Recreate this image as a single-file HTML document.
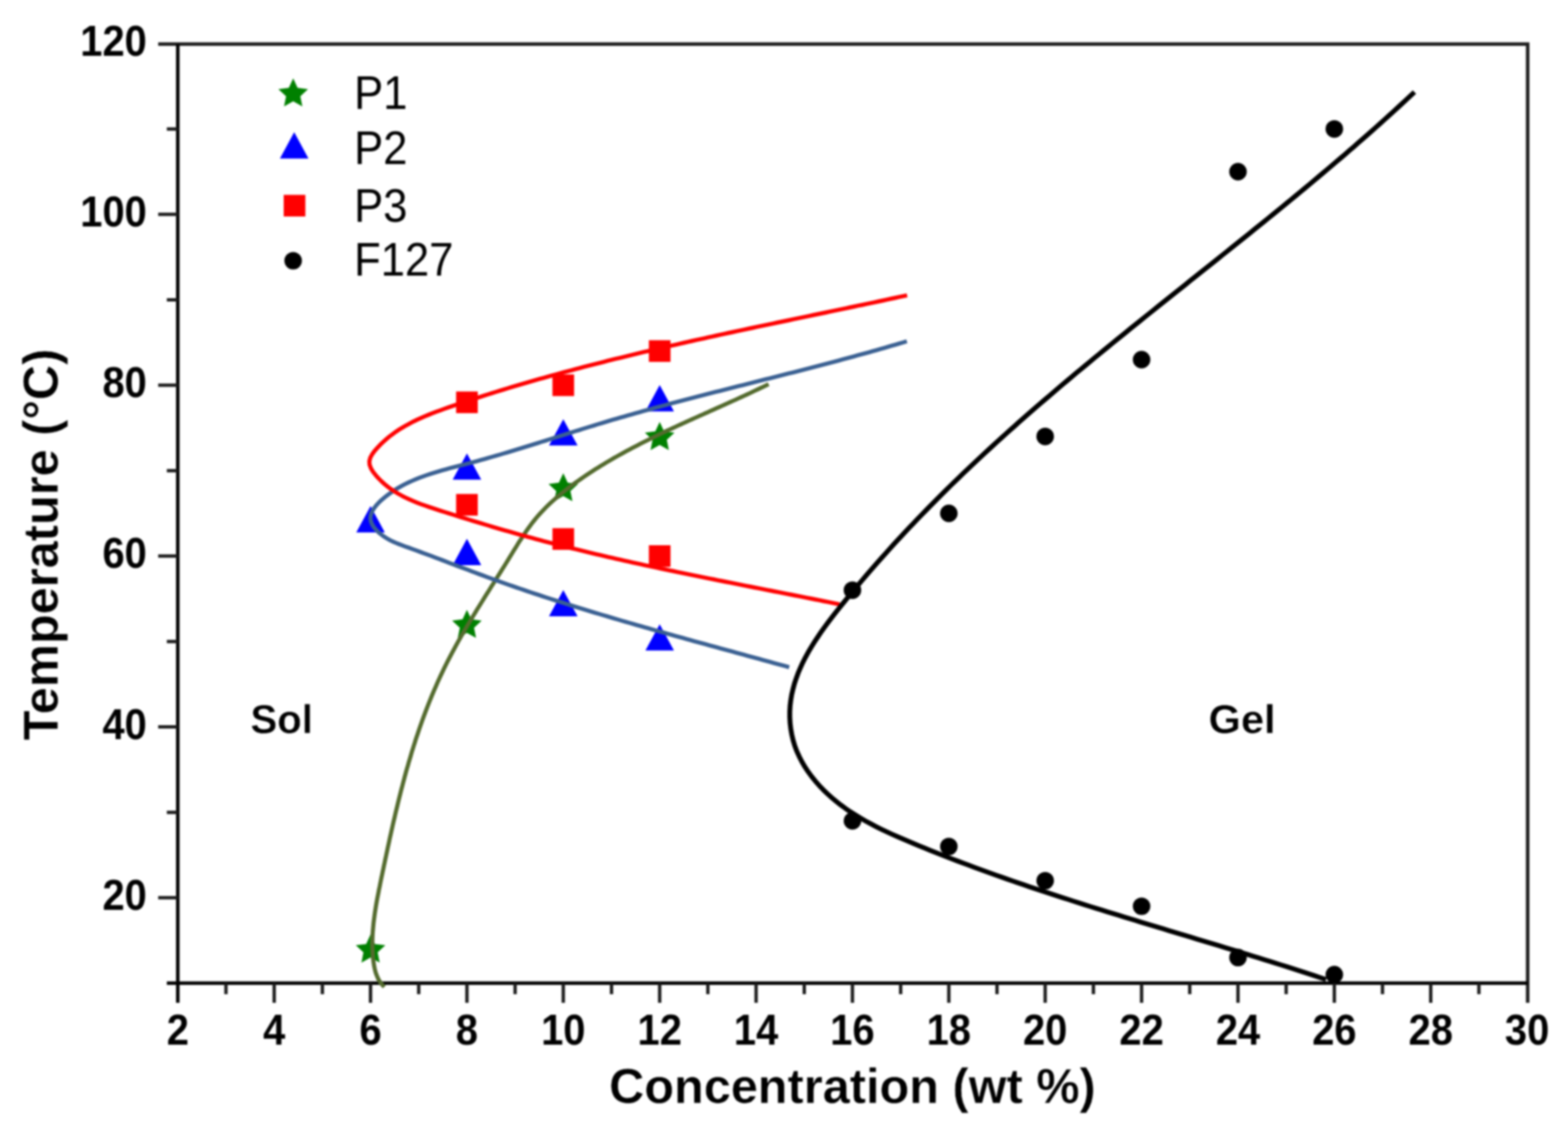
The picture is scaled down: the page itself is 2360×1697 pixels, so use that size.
<!DOCTYPE html>
<html lang="en"><head><meta charset="utf-8"><title>Sol-gel phase diagram</title>
<style>
html,body{margin:0;padding:0;background:#fff;}
body{width:2360px;height:1697px;overflow:hidden;}
svg{display:block;}
text{font-family:"Liberation Sans",sans-serif;fill:#000;}
.tk{font-weight:bold;font-size:64.6px;}
.ax{font-weight:bold;font-size:74px;stroke:#fff;stroke-width:0.5;}
.lg{font-size:70.5px;}
.an{font-weight:bold;font-size:62px;stroke:#fff;stroke-width:0.5;}
</style></head><body>
<svg width="2360" height="1697" viewBox="0 0 2360 1697" role="img" aria-label="Sol-gel phase diagram: temperature versus concentration">
<defs><filter id="soft" x="-2%" y="-2%" width="104%" height="104%" color-interpolation-filters="sRGB"><feGaussianBlur stdDeviation="1.4"/></filter></defs>
<g filter="url(#soft)">
<rect x="0" y="0" width="2360" height="1697" fill="#fff"/>
<g stroke="#000" stroke-width="5.3" fill="none" stroke-linecap="butt">
<path d="M238.1 66.4 H2299.3 V1509.9" stroke="#1c1c1c"/>
<path d="M267.6 66.4 V1509.9"/>
<path d="M251.1 1480.4 H2299.3"/>
<path d="M340.1 1480.4 v16.5M412.7 1480.4 v29.5M485.2 1480.4 v16.5M557.7 1480.4 v29.5M630.2 1480.4 v16.5M702.8 1480.4 v29.5M775.3 1480.4 v16.5M847.8 1480.4 v29.5M920.4 1480.4 v16.5M992.9 1480.4 v29.5M1065.4 1480.4 v16.5M1138.0 1480.4 v29.5M1210.5 1480.4 v16.5M1283.0 1480.4 v29.5M1355.6 1480.4 v16.5M1428.1 1480.4 v29.5M1500.6 1480.4 v16.5M1573.1 1480.4 v29.5M1645.7 1480.4 v16.5M1718.2 1480.4 v29.5M1790.7 1480.4 v16.5M1863.3 1480.4 v29.5M1935.8 1480.4 v16.5M2008.3 1480.4 v29.5M2080.8 1480.4 v16.5M2153.4 1480.4 v29.5M2225.9 1480.4 v16.5" stroke-width="5.0" stroke="#1a1a1a"/>
<path d="M267.6 1351.8 h-29.5M267.6 1223.2 h-16.5M267.6 1094.5 h-29.5M267.6 965.9 h-16.5M267.6 837.3 h-29.5M267.6 708.7 h-16.5M267.6 580.1 h-29.5M267.6 451.4 h-16.5M267.6 322.8 h-29.5M267.6 194.2 h-16.5" stroke-width="5.0" stroke="#1a1a1a"/>
</g>
<g fill="#0000ff"><polygon points="557.7,762.1 579.2,801.7 536.2,801.7"/><polygon points="702.8,682.7 724.3,722.3 681.3,722.3"/><polygon points="702.8,811.3 724.3,850.9 681.3,850.9"/><polygon points="847.8,631.2 869.3,670.8 826.3,670.8"/><polygon points="847.8,888.5 869.3,928.1 826.3,928.1"/><polygon points="992.9,579.8 1014.4,619.4 971.4,619.4"/><polygon points="992.9,939.9 1014.4,979.5 971.4,979.5"/></g>
<g fill="#008000"><polygon points="557.7,1407.1 564.3,1421.4 580.0,1423.2 568.4,1433.9 571.5,1449.4 557.7,1441.7 544.0,1449.4 547.0,1433.9 535.5,1423.2 551.1,1421.4"/><polygon points="702.8,918.3 709.4,932.6 725.0,934.5 713.5,945.2 716.5,960.6 702.8,952.9 689.0,960.6 692.1,945.2 680.5,934.5 696.2,932.6"/><polygon points="847.8,712.5 854.4,726.8 870.1,728.7 858.5,739.4 861.6,754.8 847.8,747.1 834.1,754.8 837.2,739.4 825.6,728.7 841.2,726.8"/><polygon points="992.9,635.3 999.5,649.6 1015.2,651.5 1003.6,662.2 1006.7,677.7 992.9,670.0 979.1,677.7 982.2,662.2 970.6,651.5 986.3,649.6"/></g>
<g fill="none" stroke-linecap="butt" stroke-linejoin="round">
<path d="M1156.8 578.5L1152.7 580.5L1148.6 582.5L1144.5 584.4L1140.4 586.4L1136.3 588.3L1132.2 590.3L1128.1 592.2L1124.0 594.1L1119.9 596.0L1115.8 597.9L1111.6 599.8L1107.5 601.7L1103.4 603.5L1099.2 605.4L1095.1 607.3L1091.0 609.1L1086.8 611.0L1082.7 612.9L1078.6 614.7L1074.4 616.6L1070.3 618.4L1066.2 620.3L1062.0 622.1L1057.9 624.0L1053.7 625.8L1049.6 627.7L1045.5 629.5L1041.4 631.4L1037.2 633.3L1033.1 635.1L1029.0 637.0L1024.9 638.9L1020.7 640.8L1016.6 642.7L1012.5 644.6L1008.4 646.5L1004.3 648.4L1000.2 650.4L996.2 652.3L992.1 654.3L988.0 656.2L983.9 658.2L979.9 660.2L975.8 662.2L971.8 664.2L967.7 666.3L963.7 668.3L959.7 670.4L955.7 672.5L951.7 674.6L947.7 676.7L943.7 678.8L939.7 681.0L935.7 683.2L931.8 685.4L927.8 687.6L923.9 689.8L920.0 692.1L916.1 694.4L912.2 696.7L908.3 699.1L904.4 701.4L900.6 703.8L896.7 706.2L892.9 708.7L889.1 711.2L885.3 713.7L881.5 716.2L877.7 718.8L874.0 721.4L870.2 724.0L866.5 726.6L862.8 729.3L859.1 732.0L855.5 734.8L851.9 737.6L848.3 740.4L844.7 743.3L841.2 746.2L837.7 749.2L834.3 752.2L830.9 755.2L827.6 758.3L824.3 761.4L821.1 764.6L818.0 767.8L814.9 771.1L811.9 774.4L808.9 777.8L806.0 781.2L803.2 784.7L800.5 788.2L797.8 791.8L795.2 795.4L792.6 799.0L790.1 802.7L787.6 806.4L785.2 810.2L782.7 813.9L780.3 817.7L778.0 821.5L775.6 825.4L773.2 829.2L770.9 833.0L768.5 836.9L766.2 840.7L763.8 844.6L761.4 848.5L759.0 852.3L756.6 856.2L754.2 860.0L751.8 863.9L749.4 867.7L746.9 871.6L744.5 875.5L742.1 879.3L739.6 883.2L737.2 887.1L734.8 891.0L732.3 894.8L729.9 898.7L727.5 902.6L725.1 906.5L722.7 910.4L720.2 914.3L717.8 918.2L715.5 922.1L713.1 926.0L710.7 929.9L708.3 933.9L706.0 937.8L703.6 941.7L701.3 945.7L699.0 949.6L696.7 953.6L694.4 957.5L692.2 961.5L689.9 965.5L687.7 969.5L685.5 973.5L683.4 977.5L681.2 981.5L679.1 985.5L677.0 989.5L674.9 993.5L672.8 997.6L670.8 1001.6L668.8 1005.7L666.8 1009.8L664.9 1013.8L663.0 1017.9L661.1 1022.0L659.2 1026.1L657.4 1030.3L655.6 1034.4L653.8 1038.5L652.0 1042.7L650.3 1046.8L648.6 1051.0L646.9 1055.1L645.2 1059.3L643.6 1063.5L642.0 1067.7L640.4 1071.9L638.8 1076.1L637.2 1080.3L635.7 1084.5L634.2 1088.7L632.7 1093.0L631.2 1097.2L629.8 1101.5L628.4 1105.7L626.9 1110.0L625.5 1114.3L624.2 1118.6L622.8 1122.9L621.5 1127.1L620.1 1131.4L618.8 1135.8L617.6 1140.1L616.3 1144.4L615.0 1148.7L613.8 1153.1L612.5 1157.4L611.3 1161.7L610.1 1166.1L608.9 1170.4L607.8 1174.8L606.6 1179.2L605.5 1183.6L604.3 1187.9L603.2 1192.3L602.1 1196.7L601.0 1201.1L599.9 1205.5L598.8 1209.9L597.8 1214.3L596.7 1218.8L595.6 1223.2L594.6 1227.6L593.6 1232.0L592.5 1236.5L591.5 1240.9L590.5 1245.4L589.5 1249.8L588.5 1254.3L587.5 1258.7L586.5 1263.2L585.6 1267.6L584.6 1272.1L583.6 1276.6L582.7 1281.1L581.7 1285.6L580.8 1290.0L579.8 1294.5L578.9 1299.0L577.9 1303.5L577.0 1308.0L576.0 1312.5L575.1 1317.0L574.1 1321.5L573.2 1326.0L572.3 1330.5L571.4 1335.1L570.4 1339.6L569.6 1344.1L568.7 1348.6L567.8 1353.1L567.0 1357.6L566.2 1362.1L565.5 1366.6L564.8 1371.1L564.1 1375.6L563.5 1380.1L562.9 1384.6L562.3 1389.1L561.9 1393.5L561.5 1398.0L561.1 1402.4L560.8 1406.9L560.6 1411.3L560.5 1415.7L560.4 1420.1L560.5 1424.5L560.6 1428.9L560.8 1433.3L561.1 1437.6L561.4 1442.0L561.9 1446.3L562.5 1450.6L563.2 1454.9L564.1 1459.1L565.1 1463.3L566.5 1467.4L568.1 1471.4L570.0 1475.3L572.4 1479.1L575.1 1482.7L578.4 1486.1" stroke="#536a2d" stroke-width="6.2"/>
<path d="M1364.9 513.9L1359.2 515.6L1353.6 517.3L1347.9 519.0L1342.2 520.6L1336.5 522.3L1330.8 523.9L1325.1 525.5L1319.4 527.2L1313.7 528.8L1308.0 530.4L1302.3 532.0L1296.5 533.6L1290.8 535.1L1285.1 536.7L1279.4 538.3L1273.6 539.8L1267.9 541.3L1262.1 542.9L1256.4 544.4L1250.6 545.9L1244.9 547.4L1239.1 549.0L1233.4 550.5L1227.6 552.0L1221.8 553.5L1216.1 554.9L1210.3 556.4L1204.5 557.9L1198.8 559.4L1193.0 560.9L1187.2 562.3L1181.4 563.8L1175.7 565.3L1169.9 566.7L1164.1 568.2L1158.3 569.7L1152.5 571.1L1146.8 572.6L1141.0 574.0L1135.2 575.5L1129.4 577.0L1123.6 578.4L1117.8 579.9L1112.1 581.3L1106.3 582.8L1100.5 584.3L1094.7 585.7L1088.9 587.2L1083.2 588.7L1077.4 590.1L1071.6 591.6L1065.8 593.1L1060.1 594.6L1054.3 596.1L1048.5 597.5L1042.8 599.0L1037.0 600.5L1031.2 602.1L1025.5 603.6L1019.7 605.1L1013.9 606.6L1008.2 608.1L1002.4 609.7L996.7 611.2L990.9 612.8L985.2 614.3L979.5 615.9L973.7 617.5L968.0 619.1L962.3 620.7L956.6 622.3L950.8 623.9L945.1 625.5L939.4 627.2L933.7 628.8L928.0 630.5L922.3 632.1L916.6 633.8L911.0 635.5L905.3 637.2L899.6 638.9L893.9 640.7L888.3 642.4L882.6 644.1L876.9 645.9L871.3 647.7L865.6 649.4L860.0 651.2L854.3 653.0L848.7 654.7L843.0 656.5L837.4 658.3L831.7 660.1L826.1 661.9L820.4 663.7L814.8 665.4L809.1 667.2L803.4 669.0L797.8 670.7L792.1 672.5L786.4 674.3L780.7 676.0L775.0 677.7L769.3 679.5L763.6 681.2L757.9 682.9L752.2 684.6L746.4 686.2L740.7 687.9L735.0 689.5L729.2 691.2L723.4 692.8L717.6 694.4L711.9 695.9L706.1 697.5L700.2 699.0L694.4 700.5L688.6 702.0L682.8 703.6L676.9 705.1L671.1 706.7L665.3 708.3L659.6 710.0L653.8 711.7L648.1 713.5L642.5 715.4L636.9 717.4L631.3 719.4L625.8 721.6L620.3 724.0L615.0 726.4L609.6 729.0L604.4 731.8L599.2 734.7L594.2 737.9L589.2 741.2L584.3 744.7L579.6 748.4L574.9 752.3L570.4 756.5L566.4 760.8L562.9 765.3L560.1 770.0L558.3 774.7L557.5 779.5L558.0 784.3L559.8 789.2L562.8 794.0L566.7 798.6L571.3 802.9L576.4 806.9L581.8 810.4L587.2 813.5L592.8 816.1L598.4 818.5L604.0 820.7L609.7 822.8L615.4 824.8L621.0 826.8L626.7 828.9L632.3 831.0L637.9 833.1L643.5 835.2L649.1 837.2L654.7 839.3L660.2 841.4L665.8 843.5L671.3 845.7L676.9 847.8L682.4 849.9L688.0 852.0L693.5 854.1L699.1 856.2L704.6 858.2L710.1 860.3L715.7 862.4L721.2 864.5L726.8 866.5L732.3 868.6L737.9 870.6L743.4 872.6L749.0 874.6L754.6 876.6L760.2 878.6L765.8 880.6L771.4 882.5L777.0 884.5L782.6 886.4L788.2 888.3L793.8 890.2L799.4 892.1L805.0 894.0L810.7 895.8L816.3 897.7L822.0 899.6L827.6 901.4L833.3 903.2L838.9 905.0L844.6 906.8L850.3 908.6L855.9 910.4L861.6 912.2L867.3 914.0L873.0 915.7L878.7 917.5L884.4 919.2L890.0 921.0L895.7 922.7L901.4 924.4L907.2 926.1L912.9 927.8L918.6 929.5L924.3 931.2L930.0 932.9L935.7 934.6L941.4 936.2L947.2 937.9L952.9 939.5L958.6 941.2L964.3 942.8L970.1 944.5L975.8 946.1L981.5 947.7L987.3 949.4L993.0 951.0L998.8 952.6L1004.5 954.2L1010.2 955.8L1016.0 957.4L1021.7 959.0L1027.5 960.6L1033.2 962.2L1038.9 963.8L1044.7 965.4L1050.4 966.9L1056.2 968.5L1061.9 970.1L1067.6 971.7L1073.4 973.3L1079.1 974.8L1084.9 976.4L1090.6 978.0L1096.3 979.5L1102.1 981.1L1107.8 982.7L1113.5 984.3L1119.3 985.8L1125.0 987.4L1130.7 989.0L1136.4 990.5L1142.2 992.1L1147.9 993.7L1153.6 995.2L1159.3 996.8L1165.0 998.4L1170.7 1000.0L1176.4 1001.5L1182.1 1003.1L1187.8 1004.7" stroke="#3a6092" stroke-width="6.2"/>
<path d="M1365.3 444.7L1359.1 446.0L1353.0 447.3L1346.9 448.6L1340.7 449.9L1334.6 451.3L1328.4 452.6L1322.3 453.9L1316.2 455.2L1310.0 456.5L1303.9 457.8L1297.8 459.1L1291.6 460.3L1285.5 461.6L1279.4 462.9L1273.3 464.2L1267.1 465.5L1261.0 466.8L1254.9 468.0L1248.8 469.3L1242.7 470.6L1236.5 471.9L1230.4 473.1L1224.3 474.4L1218.2 475.7L1212.1 477.0L1206.0 478.2L1199.9 479.5L1193.8 480.8L1187.7 482.1L1181.6 483.4L1175.5 484.6L1169.4 485.9L1163.3 487.2L1157.2 488.5L1151.1 489.8L1145.0 491.0L1138.9 492.3L1132.8 493.6L1126.7 494.9L1120.6 496.2L1114.6 497.5L1108.5 498.8L1102.4 500.1L1096.3 501.4L1090.2 502.7L1084.2 504.1L1078.1 505.4L1072.0 506.7L1065.9 508.0L1059.9 509.4L1053.8 510.7L1047.7 512.1L1041.7 513.4L1035.6 514.8L1029.5 516.1L1023.5 517.5L1017.4 518.9L1011.3 520.2L1005.3 521.6L999.2 523.0L993.2 524.4L987.1 525.8L981.1 527.3L975.0 528.7L969.0 530.1L962.9 531.5L956.9 533.0L950.8 534.4L944.8 535.9L938.8 537.4L932.7 538.9L926.7 540.3L920.7 541.8L914.6 543.3L908.6 544.9L902.6 546.4L896.5 547.9L890.5 549.5L884.5 551.0L878.5 552.6L872.4 554.2L866.4 555.8L860.4 557.4L854.4 559.0L848.4 560.6L842.4 562.2L836.3 563.9L830.3 565.5L824.3 567.2L818.3 568.9L812.3 570.6L806.3 572.3L800.3 574.0L794.3 575.8L788.3 577.5L782.3 579.3L776.3 581.0L770.3 582.8L764.3 584.6L758.3 586.5L752.4 588.3L746.4 590.1L740.4 592.0L734.4 593.9L728.4 595.8L722.4 597.7L716.5 599.6L710.5 601.5L704.5 603.5L698.5 605.5L692.6 607.5L686.6 609.5L680.6 611.5L674.7 613.5L668.7 615.6L662.8 617.8L656.9 619.9L651.0 622.2L645.2 624.5L639.4 626.9L633.7 629.4L628.1 631.9L622.5 634.6L617.0 637.5L611.6 640.4L606.3 643.5L601.0 646.7L595.9 650.1L590.9 653.7L586.0 657.4L581.3 661.4L576.7 665.5L572.2 669.8L567.9 674.4L563.7 679.1L560.1 684.1L557.3 689.3L555.9 694.6L556.3 699.9L558.4 705.3L561.6 710.6L565.6 715.7L569.8 720.4L574.3 724.9L579.0 729.1L583.8 733.0L588.8 736.7L594.0 740.1L599.3 743.4L604.8 746.4L610.3 749.2L616.0 751.9L621.7 754.4L627.6 756.8L633.5 759.1L639.4 761.2L645.4 763.3L651.5 765.3L657.5 767.3L663.5 769.2L669.6 771.1L675.6 773.0L681.6 774.9L687.6 776.8L693.6 778.7L699.6 780.5L705.5 782.4L711.5 784.2L717.5 786.0L723.4 787.8L729.4 789.6L735.3 791.4L741.2 793.2L747.2 794.9L753.1 796.7L759.1 798.4L765.0 800.1L771.0 801.8L776.9 803.5L782.9 805.2L788.8 806.8L794.8 808.5L800.8 810.1L806.7 811.7L812.7 813.3L818.7 814.9L824.7 816.5L830.7 818.0L836.7 819.6L842.8 821.1L848.8 822.6L854.8 824.2L860.9 825.7L866.9 827.1L872.9 828.6L879.0 830.1L885.0 831.5L891.1 833.0L897.2 834.4L903.2 835.8L909.3 837.2L915.4 838.7L921.5 840.0L927.5 841.4L933.6 842.8L939.7 844.2L945.8 845.5L951.9 846.9L958.0 848.2L964.1 849.5L970.2 850.9L976.3 852.2L982.4 853.5L988.6 854.8L994.7 856.1L1000.8 857.4L1006.9 858.7L1013.0 859.9L1019.1 861.2L1025.3 862.5L1031.4 863.7L1037.5 865.0L1043.6 866.2L1049.8 867.5L1055.9 868.7L1062.0 870.0L1068.2 871.2L1074.3 872.4L1080.4 873.7L1086.5 874.9L1092.7 876.1L1098.8 877.3L1104.9 878.5L1111.1 879.7L1117.2 881.0L1123.3 882.2L1129.4 883.4L1135.5 884.6L1141.7 885.8L1147.8 887.0L1153.9 888.2L1160.0 889.4L1166.1 890.6L1172.2 891.8L1178.4 893.0L1184.5 894.2L1190.6 895.4L1196.7 896.6L1202.8 897.8L1208.9 899.0L1215.0 900.2L1221.0 901.4L1227.1 902.6L1233.2 903.8L1239.3 905.1L1245.4 906.3L1251.4 907.5L1257.5 908.7L1263.6 910.0" stroke="#ff0000" stroke-width="6.2"/>
<path d="M2128.9 138.6L2122.5 144.6L2116.1 150.6L2109.7 156.5L2103.2 162.5L2096.8 168.4L2090.3 174.3L2083.8 180.1L2077.3 186.0L2070.7 191.9L2064.1 197.7L2057.6 203.5L2051.0 209.3L2044.3 215.1L2037.7 220.9L2031.1 226.6L2024.4 232.4L2017.7 238.1L2011.0 243.8L2004.3 249.6L1997.5 255.3L1990.8 260.9L1984.0 266.6L1977.3 272.3L1970.5 278.0L1963.7 283.6L1956.9 289.2L1950.1 294.9L1943.3 300.5L1936.4 306.1L1929.6 311.7L1922.7 317.3L1915.9 322.9L1909.0 328.5L1902.1 334.1L1895.2 339.6L1888.3 345.2L1881.4 350.8L1874.5 356.3L1867.6 361.9L1860.7 367.4L1853.8 372.9L1846.9 378.5L1839.9 384.0L1833.0 389.6L1826.1 395.1L1819.2 400.6L1812.2 406.1L1805.3 411.7L1798.4 417.2L1791.4 422.7L1784.5 428.3L1777.6 433.8L1770.6 439.3L1763.7 444.8L1756.8 450.4L1749.9 455.9L1743.0 461.4L1736.1 467.0L1729.2 472.5L1722.3 478.0L1715.4 483.6L1708.5 489.1L1701.6 494.7L1694.7 500.3L1687.9 505.8L1681.0 511.4L1674.1 517.0L1667.3 522.6L1660.5 528.1L1653.7 533.7L1646.9 539.3L1640.1 545.0L1633.3 550.6L1626.5 556.2L1619.7 561.8L1613.0 567.5L1606.3 573.1L1599.5 578.8L1592.8 584.5L1586.1 590.2L1579.5 595.9L1572.8 601.6L1566.2 607.3L1559.5 613.1L1552.9 618.8L1546.3 624.6L1539.8 630.3L1533.2 636.1L1526.7 642.0L1520.1 647.8L1513.6 653.6L1507.1 659.5L1500.6 665.4L1494.2 671.3L1487.7 677.2L1481.3 683.2L1474.9 689.1L1468.5 695.1L1462.1 701.1L1455.8 707.1L1449.4 713.2L1443.1 719.3L1436.8 725.4L1430.5 731.5L1424.3 737.7L1418.0 743.9L1411.8 750.1L1405.6 756.3L1399.4 762.6L1393.3 768.9L1387.1 775.2L1381.0 781.5L1374.9 787.9L1368.8 794.3L1362.7 800.8L1356.7 807.3L1350.6 813.8L1344.6 820.3L1338.7 826.9L1332.7 833.6L1326.7 840.2L1320.8 846.9L1314.9 853.6L1309.0 860.4L1303.2 867.2L1297.4 874.0L1291.5 880.9L1285.7 887.9L1280.0 894.8L1274.2 901.8L1268.5 908.9L1262.8 916.0L1257.2 923.1L1251.6 930.3L1246.1 937.5L1240.7 944.8L1235.5 952.2L1230.5 959.6L1225.6 967.1L1220.9 974.6L1216.4 982.2L1212.2 989.9L1208.3 997.6L1204.7 1005.5L1201.3 1013.4L1198.4 1021.4L1195.7 1029.5L1193.5 1037.7L1191.6 1045.9L1190.2 1054.3L1189.2 1062.7L1188.7 1071.3L1188.7 1080.0L1189.2 1088.7L1190.2 1097.4L1191.7 1106.0L1193.7 1114.6L1196.2 1123.0L1199.3 1131.3L1203.0 1139.3L1207.0 1147.2L1211.5 1154.8L1216.4 1162.2L1221.7 1169.4L1227.3 1176.3L1233.1 1182.9L1239.2 1189.3L1245.5 1195.4L1252.0 1201.3L1258.8 1206.9L1265.7 1212.3L1272.7 1217.4L1280.0 1222.4L1287.4 1227.1L1294.9 1231.7L1302.5 1236.1L1310.3 1240.3L1318.1 1244.4L1326.1 1248.4L1334.1 1252.2L1342.2 1256.0L1350.4 1259.6L1358.6 1263.2L1366.8 1266.7L1375.0 1270.2L1383.3 1273.6L1391.5 1276.9L1399.8 1280.3L1408.1 1283.6L1416.3 1286.9L1424.6 1290.1L1432.9 1293.3L1441.2 1296.5L1449.5 1299.6L1457.8 1302.7L1466.1 1305.8L1474.4 1308.9L1482.7 1311.9L1491.0 1314.9L1499.3 1317.9L1507.7 1320.8L1516.0 1323.7L1524.3 1326.6L1532.7 1329.5L1541.0 1332.3L1549.3 1335.2L1557.7 1338.0L1566.0 1340.8L1574.4 1343.5L1582.8 1346.3L1591.1 1349.0L1599.5 1351.7L1607.9 1354.4L1616.2 1357.1L1624.6 1359.8L1633.0 1362.4L1641.4 1365.1L1649.8 1367.7L1658.2 1370.3L1666.6 1372.9L1675.0 1375.5L1683.4 1378.1L1691.8 1380.7L1700.2 1383.3L1708.6 1385.8L1717.0 1388.4L1725.4 1391.0L1733.8 1393.5L1742.2 1396.1L1750.7 1398.6L1759.1 1401.2L1767.5 1403.7L1775.9 1406.3L1784.4 1408.8L1792.8 1411.3L1801.2 1413.9L1809.7 1416.4L1818.1 1419.0L1826.6 1421.6L1835.0 1424.1L1843.5 1426.7L1851.9 1429.3L1860.4 1431.8L1868.8 1434.4L1877.3 1437.0L1885.7 1439.7L1894.2 1442.3L1902.6 1444.9L1911.1 1447.6L1919.6 1450.2L1928.0 1452.9L1936.5 1455.6L1945.0 1458.3L1953.4 1461.0L1961.9 1463.8L1970.4 1466.5L1978.8 1469.3L1987.3 1472.1L1995.8 1474.9" stroke="#000" stroke-width="7.3"/>
</g>
<g fill="#ff0000"><rect x="686.5" y="589.5" width="32.6" height="32.6"/><rect x="686.5" y="743.8" width="32.6" height="32.6"/><rect x="831.5" y="563.8" width="32.6" height="32.6"/><rect x="831.5" y="795.3" width="32.6" height="32.6"/><rect x="976.6" y="512.3" width="32.6" height="32.6"/><rect x="976.6" y="821.0" width="32.6" height="32.6"/></g>
<g fill="#000"><circle cx="1283.0" cy="888.7" r="13.2"/><circle cx="1283.0" cy="1236.0" r="13.2"/><circle cx="1428.1" cy="773.0" r="13.2"/><circle cx="1428.1" cy="1274.6" r="13.2"/><circle cx="1573.1" cy="657.2" r="13.2"/><circle cx="1573.1" cy="1326.1" r="13.2"/><circle cx="1718.2" cy="541.5" r="13.2"/><circle cx="1718.2" cy="1364.6" r="13.2"/><circle cx="1863.3" cy="258.5" r="13.2"/><circle cx="1863.3" cy="1441.8" r="13.2"/><circle cx="2008.3" cy="194.2" r="13.2"/><circle cx="2008.3" cy="1467.5" r="13.2"/></g>
<g class="tk">
<text class="tk" text-anchor="middle" transform="translate(267.6 1573.0) scale(0.9300 1)">2</text>
<text class="tk" text-anchor="middle" transform="translate(412.7 1573.0) scale(0.9300 1)">4</text>
<text class="tk" text-anchor="middle" transform="translate(557.7 1573.0) scale(0.9300 1)">6</text>
<text class="tk" text-anchor="middle" transform="translate(702.8 1573.0) scale(0.9300 1)">8</text>
<text class="tk" text-anchor="middle" transform="translate(847.8 1573.0) scale(0.9300 1)">10</text>
<text class="tk" text-anchor="middle" transform="translate(992.9 1573.0) scale(0.9300 1)">12</text>
<text class="tk" text-anchor="middle" transform="translate(1138.0 1573.0) scale(0.9300 1)">14</text>
<text class="tk" text-anchor="middle" transform="translate(1283.0 1573.0) scale(0.9300 1)">16</text>
<text class="tk" text-anchor="middle" transform="translate(1428.1 1573.0) scale(0.9300 1)">18</text>
<text class="tk" text-anchor="middle" transform="translate(1573.1 1573.0) scale(0.9300 1)">20</text>
<text class="tk" text-anchor="middle" transform="translate(1718.2 1573.0) scale(0.9300 1)">22</text>
<text class="tk" text-anchor="middle" transform="translate(1863.3 1573.0) scale(0.9300 1)">24</text>
<text class="tk" text-anchor="middle" transform="translate(2008.3 1573.0) scale(0.9300 1)">26</text>
<text class="tk" text-anchor="middle" transform="translate(2153.4 1573.0) scale(0.9300 1)">28</text>
<text class="tk" text-anchor="middle" transform="translate(2298.4 1573.0) scale(0.9300 1)">30</text>
<text class="tk" text-anchor="end" transform="translate(221.0 1369.8) scale(0.9300 1)">20</text>
<text class="tk" text-anchor="end" transform="translate(221.0 1112.5) scale(0.9300 1)">40</text>
<text class="tk" text-anchor="end" transform="translate(221.0 855.3) scale(0.9300 1)">60</text>
<text class="tk" text-anchor="end" transform="translate(221.0 598.1) scale(0.9300 1)">80</text>
<text class="tk" text-anchor="end" transform="translate(221.0 340.8) scale(0.9300 1)">100</text>
<text class="tk" text-anchor="end" transform="translate(221.0 83.6) scale(0.9300 1)">120</text>
</g>
<text class="ax" text-anchor="middle" transform="translate(1283.0 1661.0) scale(0.9900 1)">Concentration (wt %)</text>
<text class="ax" text-anchor="middle" transform="translate(87.0 820.0) rotate(-90) scale(0.9900 1)">Temperature (°C)</text>
<text class="an" transform="translate(377.0 1103.5) scale(0.9750 1)">Sol</text>
<text class="an" transform="translate(1819.0 1103.5) scale(1.0100 1)">Gel</text>
<g fill="#008000"><polygon points="441.3,118.0 447.9,132.3 463.6,134.2 452.0,144.9 455.1,160.3 441.3,152.6 427.5,160.3 430.6,144.9 419.0,134.2 434.7,132.3"/></g>
<g fill="#0000ff"><polygon points="442.8,199.1 464.3,238.7 421.3,238.7"/></g>
<g fill="#ff0000"><rect x="427.0" y="293.4" width="32.6" height="32.6"/></g>
<g fill="#000"><circle cx="441.2" cy="392.6" r="13.2"/></g>
<text class="lg" transform="translate(533.0 163.6) scale(0.9300 1)">P1</text>
<text class="lg" transform="translate(533.0 247.2) scale(0.9300 1)">P2</text>
<text class="lg" transform="translate(533.0 334.0) scale(0.9300 1)">P3</text>
<text class="lg" transform="translate(533.0 414.6) scale(0.9300 1)">F127</text>
</g></svg>
</body></html>
